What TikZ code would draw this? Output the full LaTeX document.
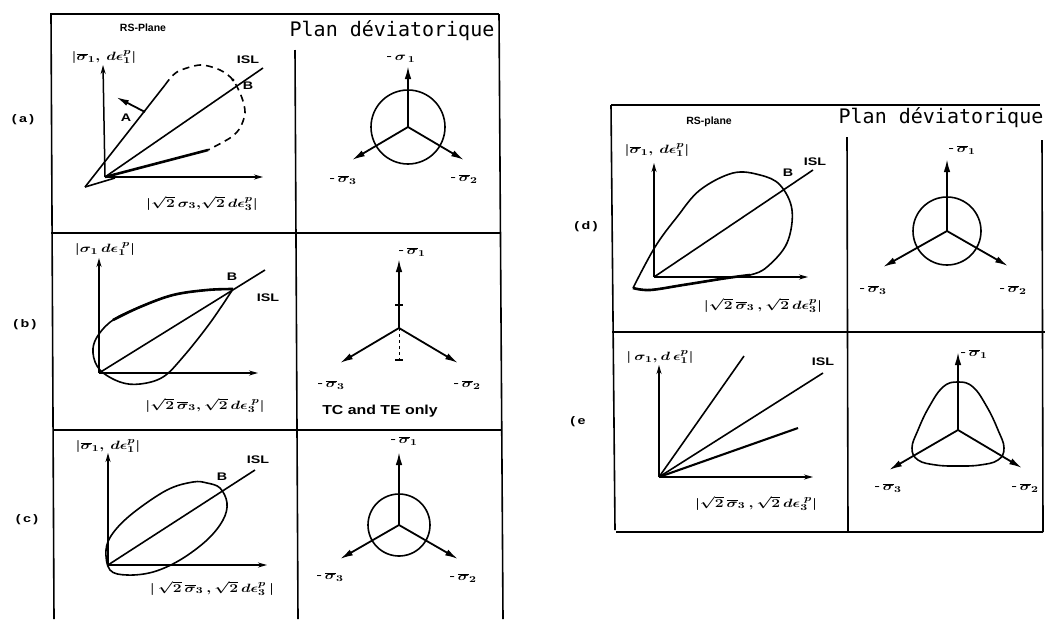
\documentclass[tikz,border=0pt]{standalone}
\usepackage{graphicx}
\usepackage{fontspec}
\setmainfont{Liberation Sans}
\newfontfamily\devmono{DejaVu Sans Mono}
\usetikzlibrary{arrows.meta}
\newcommand{\myw}[1]{\scalebox{1.3}[1]{#1}}
\newcommand{\osg}{\overline{\sigma}}
\tikzset{
  tbl/.style={line width=1.6pt},
  sepline/.style={line width=2.4pt},
  axarr/.style={line width=1.5pt,-{Stealth[length=9pt,width=5pt]}},
  devarr/.style={line width=1.8pt,-{Latex[length=13pt,width=6.5pt]}},
  crv/.style={line width=1.6pt},
  thk/.style={line width=2.6pt},
  lbl/.style={inner sep=0pt,font=\bfseries\fontsize{11}{11}\selectfont},
  mlbl/.style={inner sep=0pt,font=\boldmath\fontsize{13}{13}\selectfont},
  hdr/.style={inner sep=0pt,font=\devmono\fontsize{20}{20}\selectfont},
  rs/.style={inner sep=0pt,font=\bfseries\fontsize{10.5}{10.5}\selectfont},
}
\begin{document}
\begin{tikzpicture}[x=1pt,y=-1pt]
\useasboundingbox (0,0) rectangle (1048,619);
% ---------------- left table ----------------
\draw[tbl] (50,14) -- (499,14);
\draw[tbl] (51,14) -- (54,619);
\draw[tbl] (295,50) -- (298,619);
\draw[tbl] (499,14) -- (503,619);
\draw[sepline] (51,233) -- (500,233);
\draw[sepline] (53,430) -- (502,430);
\node[rs] (hL1) at (143,28) {RS-Plane};
\node[hdr] (hL2) at (392,31) {Plan déviatorique};
\node[lbl] (ra) at (23,120) {\myw{(\,a\,)}};
\node[lbl] (rb) at (25,325) {\myw{(\,b\,)}};
\node[lbl] (rc) at (27,520) {\myw{(\,c\,)}};
% ---- (a) RS plane
\coordinate (aO) at (105,177);
\coordinate (aY) at (103,65);
\coordinate (aX) at (263,177);
\coordinate (aT) at (85,187);
\coordinate (aA) at (165,85);
\coordinate (aI) at (263,68);
\coordinate (aL) at (208,150);
\coordinate (aX1) at (115,178);
\coordinate (aP1) at (145,112);
\coordinate (aP2) at (116,97);
\draw[axarr] (aO) -- (aY);
\draw[axarr] (aO) -- (aX);
\draw[crv] (aO) -- (aI);
\draw[crv] (aT) -- (aA);
\draw[crv] (aT) -- (aX1);
\draw[thk] (aO) -- (aL);
\draw[crv,dash pattern=on 7pt off 5pt] plot[smooth] coordinates {(165,85) (177,72) (200,65) (220,70) (233,80) (242,98) (245,113) (240,128) (230,138) (208,150)};
\draw[line width=1.8pt,-{Latex[length=13pt,width=6pt]}] (aP1) -- (aP2);
\fill (233,80) circle (1.6pt);
\node[mlbl] (aYl) at (104,57) {\myw{$|\osg_1,\,d\epsilon_1^{p}|$}};
\node[mlbl] (aXl) at (202,203) {\myw{$|\sqrt{2}\,\sigma_3,\!\sqrt{2}\,d\epsilon_3^{p}|$}};
\node[lbl] (aISL) at (248,60) {\myw{ISL}};
\node[lbl] (aBl) at (248,86) {\myw{B}};
\node[lbl] (aAl) at (126,118) {\myw{A}};
% ---- (a) deviatoric
\coordinate (ac) at (408,127);
\coordinate (a1) at (408,66);
\coordinate (a3) at (352,160);
\coordinate (a2) at (464,160);
\draw[crv] (ac) circle (37);
\draw[devarr] (ac) -- (a1);
\draw[devarr] (ac) -- (a3);
\draw[devarr] (ac) -- (a2);
\node[mlbl] (a1l) at (401,59) {\myw{-\,$\sigma_{\,1}$}};
\node[mlbl] (a3l) at (343,180) {\myw{-\,$\osg_3$}};
\node[mlbl] (a2l) at (464,179) {\myw{-\,$\osg_2$}};
% ---- (b) RS plane
\coordinate (bO) at (99,373);
\coordinate (bY) at (99,258);
\coordinate (bX) at (258,373);
\coordinate (bI) at (265,270);
\draw[axarr] (bO) -- (bY);
\draw[axarr] (bO) -- (bX);
\draw[crv] (bO) -- (bI);
\draw[crv] plot[smooth,tension=0.6] coordinates {(233,289) (207,290) (173,295) (140,307) (113,320) (97,337) (93,353) (100,370) (120,382) (140,384) (163,377) (183,357) (210,323) (233,289)};
\draw[thk] plot[smooth,tension=0.6] coordinates {(233,289) (207,290) (173,295) (140,307) (113,320)};
\node[mlbl] (bYl) at (105,249) {\myw{$|\sigma_1\,d\epsilon_1^{\;p}|$}};
\node[mlbl] (bXl) at (205,405) {\myw{$|\sqrt{2}\,\osg_3,\sqrt{2}\,d\epsilon_3^{\;p}|$}};
\node[lbl] (bISL) at (268,298) {\myw{ISL}};
\node[lbl] (bBl) at (232,277) {\myw{B}};
% ---- (b) deviatoric
\coordinate (bc) at (399,328);
\coordinate (b1) at (399,259);
\coordinate (b3) at (340,363);
\coordinate (b2) at (458,363);
\coordinate (bd) at (399,360);
\draw[devarr] (bc) -- (b1);
\draw[devarr] (bc) -- (b3);
\draw[devarr] (bc) -- (b2);
\draw[line width=1pt,dashed] (bc) -- (bd);
\draw[line width=1.4pt] (395,305) -- (403,305);
\draw[line width=1.4pt] (395,360) -- (403,360);
\node[mlbl] (b1l) at (412,252) {\myw{-\,$\osg_1$}};
\node[mlbl] (b3l) at (331,385) {\myw{-\,$\osg_3$}};
\node[mlbl] (b2l) at (467,385) {\myw{-\,$\osg_2$}};
\node[inner sep=0pt,font=\bfseries\fontsize{13}{13}\selectfont] (tcte) at (380,411) {\scalebox{1.22}[1]{TC and TE only}};
% ---- (c) RS plane
\coordinate (cO) at (108,565);
\coordinate (cY) at (108,453);
\coordinate (cX) at (267,565);
\coordinate (cI) at (255,470);
\draw[axarr] (cO) -- (cY);
\draw[axarr] (cO) -- (cX);
\draw[crv] (cO) -- (cI);
\draw[crv] plot[smooth cycle,tension=0.6] coordinates {(106,550) (113,533) (133,513) (167,490) (193,482) (207,483) (220,488) (227,503) (223,520) (207,540) (180,560) (153,572) (127,575) (110,570)};
\node[mlbl] (cYl) at (108,446) {\myw{$|\osg_1,\,d\epsilon_1^{p}|$}};
\node[mlbl] (cXl) at (212,588) {\myw{$|\,\sqrt{2}\,\osg_3\,,\sqrt{2}\,d\epsilon_3^{p}\,|$}};
\node[lbl] (cISL) at (258,460) {\myw{ISL}};
\node[lbl] (cBl) at (222,477) {\myw{B}};
% ---- (c) deviatoric
\coordinate (cc) at (399,525);
\coordinate (c1) at (399,452);
\coordinate (c3) at (340,559);
\coordinate (c2) at (458,559);
\draw[crv] (cc) circle (31);
\draw[devarr] (cc) -- (c1);
\draw[devarr] (cc) -- (c3);
\draw[devarr] (cc) -- (c2);
\node[mlbl] (c1l) at (404,441) {\myw{-\,$\osg_1$}};
\node[mlbl] (c3l) at (330,577) {\myw{-\,$\osg_3$}};
\node[mlbl] (c2l) at (463,578) {\myw{-\,$\osg_2$}};
% ---------------- right table ----------------
\draw[tbl] (611,105) -- (1040,105);
\draw[tbl] (611,105) -- (615,530);
\draw[tbl] (847,137) -- (848,532);
\draw[tbl] (1042,140) -- (1043,532);
\draw[sepline] (612,332) -- (1045,332);
\draw[sepline] (616,532) -- (1043,532);
\node[rs] (hR1) at (709,122) {RS-plane};
\node[hdr] (hR2) at (941,118) {Plan déviatorique};
\node[lbl] (rd) at (586,227) {\myw{(\,d\,)}};
\node[lbl] (re) at (578,422) {\myw{(\,e}};
% ---- (d) RS plane
\coordinate (dO) at (654,277);
\coordinate (dY) at (654,163);
\coordinate (dX) at (808,277);
\coordinate (dI) at (813,170);
\draw[axarr] (dO) -- (dY);
\draw[axarr] (dO) -- (dX);
\draw[crv] (dO) -- (dI);
\draw[crv] plot[smooth,tension=0.6] coordinates {(633,288) (655,247) (677,217) (700,190) (733,173) (760,175) (780,185) (792,210) (787,243) (767,267) (750,275) (727,278) (683,285) (650,290) (633,288)};
\draw[thk] plot[smooth,tension=0.6] coordinates {(750,275) (727,278) (683,285) (650,290) (633,288)};
\node[mlbl] (dYl) at (657,150) {\myw{$|\osg_1,\,d\epsilon_1^{p}|$}};
\node[mlbl] (dXl) at (763,305) {\myw{$|\sqrt{2}\,\osg_3\,,\sqrt{2}\,d\epsilon_3^{p}|$}};
\node[lbl] (dISL) at (815,162) {\myw{ISL}};
\node[lbl] (dBl) at (788,173) {\myw{B}};
% ---- (d) deviatoric
\coordinate (dc) at (947,231);
\coordinate (d1) at (947,159);
\coordinate (d3) at (883,267);
\coordinate (d2) at (1008,266);
\draw[crv] (dc) circle (34);
\draw[devarr] (dc) -- (d1);
\draw[devarr] (dc) -- (d3);
\draw[devarr] (dc) -- (d2);
\node[mlbl] (d1l) at (962,150) {\myw{-\,$\osg_1$}};
\node[mlbl] (d3l) at (873,290) {\myw{-\,$\osg_3$}};
\node[mlbl] (d2l) at (1013,290) {\myw{-\,$\osg_2$}};
% ---- (e) RS plane
\coordinate (eO) at (659,477);
\coordinate (eY) at (659,365);
\coordinate (eX) at (813,477);
\coordinate (e1e) at (744,356);
\coordinate (eI) at (823,373);
\coordinate (e3e) at (798,428);
\draw[axarr] (eO) -- (eY);
\draw[axarr] (eO) -- (eX);
\draw[crv] (eO) -- (e1e);
\draw[crv] (eO) -- (eI);
\draw[line width=2.1pt] (eO) -- (e3e);
\node[mlbl] (eYl) at (660,357) {\myw{$|\,\sigma_1,d\,\epsilon_1^{p}|$}};
\node[mlbl] (eXl) at (756,503) {\myw{$|\sqrt{2}\,\osg_3\,,\sqrt{2}\,d\epsilon_3^{\;p}|$}};
\node[lbl] (eISL) at (823,362) {\myw{ISL}};
% ---- (e) deviatoric
\coordinate (ec) at (958,430);
\coordinate (ee1) at (958,352);
\coordinate (ee3) at (889,470);
\coordinate (ee2) at (1022,468);
\draw[crv] plot[smooth cycle,tension=0.7] coordinates {(958,382) (973,387) (987,407) (998,430) (1004,448) (998,460) (980,465) (958,466) (936,465) (918,460) (912,448) (918,430) (929,407) (943,387)};
\draw[devarr] (ec) -- (ee1);
\draw[devarr] (ec) -- (ee3);
\draw[devarr] (ec) -- (ee2);
\node[mlbl] (e1l) at (974,354) {\myw{-\,$\osg_1$}};
\node[mlbl] (e3l) at (888,488) {\myw{-\,$\osg_3$}};
\node[mlbl] (e2l) at (1025,488) {\myw{-\,$\osg_2$}};
\end{tikzpicture}
\end{document}
